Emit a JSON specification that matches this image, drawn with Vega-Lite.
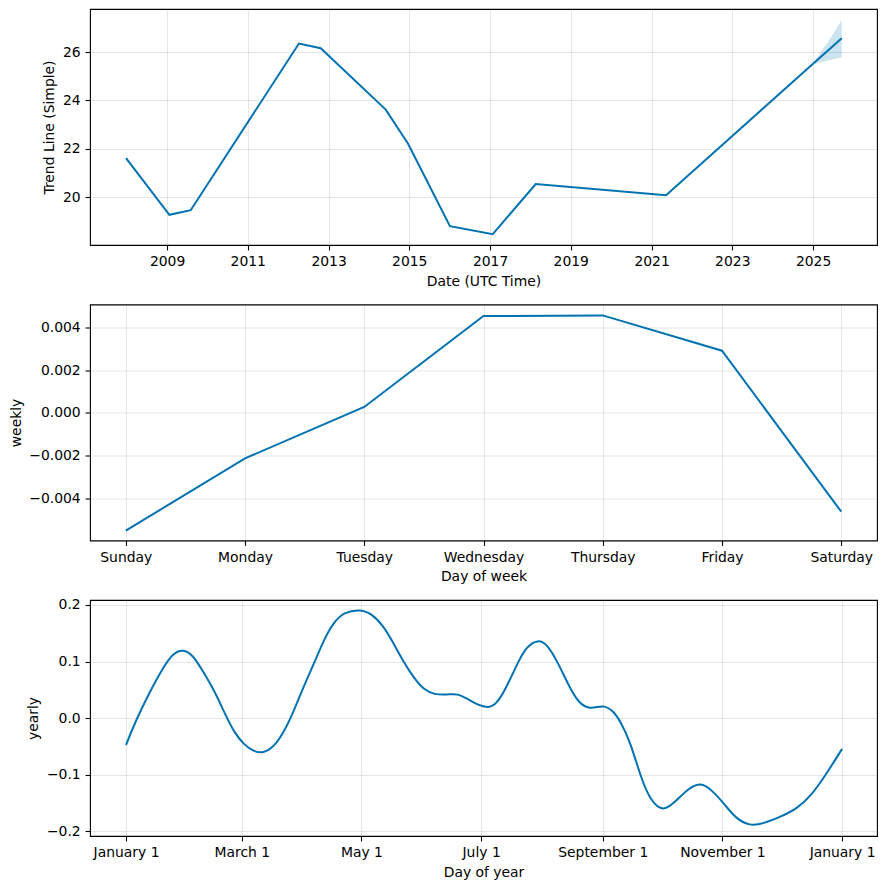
{
  "$schema": "https://vega.github.io/schema/vega-lite/v6.json",
  "padding": {"left": 8, "top": 8, "right": 9, "bottom": 5},
  "background": "white",
  "datasets": {
    "trend": [
      {"ds": "2007-12-27", "trend": 21.61},
      {"ds": "2009-01-22", "trend": 19.27},
      {"ds": "2009-08-03", "trend": 19.46},
      {"ds": "2012-04-08", "trend": 26.35},
      {"ds": "2012-10-22", "trend": 26.16},
      {"ds": "2014-06-02", "trend": 23.62},
      {"ds": "2014-12-20", "trend": 22.22},
      {"ds": "2016-01-04", "trend": 18.80},
      {"ds": "2017-01-25", "trend": 18.47},
      {"ds": "2018-02-18", "trend": 20.54},
      {"ds": "2021-05-12", "trend": 20.08},
      {"ds": "2025-01-03", "trend": 25.53},
      {"ds": "2025-09-17", "trend": 26.57}
    ],
    "band": [
      {"ds": "2025-01-03", "lower": 25.50, "upper": 25.56},
      {"ds": "2025-06-03", "lower": 25.67, "upper": 26.54},
      {"ds": "2025-09-17", "lower": 25.78, "upper": 27.32}
    ],
    "weekly": [
      {"day": "Sunday", "weekly": -0.0055},
      {"day": "Monday", "weekly": -0.00212},
      {"day": "Tuesday", "weekly": 0.00028},
      {"day": "Wednesday", "weekly": 0.00453},
      {"day": "Thursday", "weekly": 0.00456},
      {"day": "Friday", "weekly": 0.00291},
      {"day": "Saturday", "weekly": -0.00461}
    ],
    "yearly": [
      {"ds": "2017-01-01", "yearly": -0.0472},
      {"ds": "2017-01-06", "yearly": -0.004},
      {"ds": "2017-01-13", "yearly": 0.046},
      {"ds": "2017-01-20", "yearly": 0.090},
      {"ds": "2017-01-25", "yearly": 0.115},
      {"ds": "2017-01-30", "yearly": 0.122},
      {"ds": "2017-02-04", "yearly": 0.112},
      {"ds": "2017-02-09", "yearly": 0.084},
      {"ds": "2017-02-15", "yearly": 0.049},
      {"ds": "2017-02-20", "yearly": 0.0106},
      {"ds": "2017-02-25", "yearly": -0.0248},
      {"ds": "2017-03-02", "yearly": -0.0466},
      {"ds": "2017-03-07", "yearly": -0.0590},
      {"ds": "2017-03-12", "yearly": -0.062},
      {"ds": "2017-03-17", "yearly": -0.0518},
      {"ds": "2017-03-22", "yearly": -0.0277},
      {"ds": "2017-03-27", "yearly": 0.0077},
      {"ds": "2017-04-01", "yearly": 0.052},
      {"ds": "2017-04-07", "yearly": 0.098},
      {"ds": "2017-04-12", "yearly": 0.140},
      {"ds": "2017-04-17", "yearly": 0.170},
      {"ds": "2017-04-22", "yearly": 0.187},
      {"ds": "2017-04-30", "yearly": 0.1925},
      {"ds": "2017-05-06", "yearly": 0.1855},
      {"ds": "2017-05-12", "yearly": 0.164},
      {"ds": "2017-05-17", "yearly": 0.1345},
      {"ds": "2017-05-22", "yearly": 0.102},
      {"ds": "2017-05-28", "yearly": 0.0696},
      {"ds": "2017-06-02", "yearly": 0.050},
      {"ds": "2017-06-07", "yearly": 0.0415},
      {"ds": "2017-06-14", "yearly": 0.0415},
      {"ds": "2017-06-19", "yearly": 0.0435},
      {"ds": "2017-06-24", "yearly": 0.034},
      {"ds": "2017-06-29", "yearly": 0.0236},
      {"ds": "2017-07-05", "yearly": 0.0175},
      {"ds": "2017-07-09", "yearly": 0.0254},
      {"ds": "2017-07-14", "yearly": 0.0549},
      {"ds": "2017-07-19", "yearly": 0.0932},
      {"ds": "2017-07-24", "yearly": 0.1265},
      {"ds": "2017-07-30", "yearly": 0.1395},
      {"ds": "2017-08-04", "yearly": 0.1295},
      {"ds": "2017-08-09", "yearly": 0.099},
      {"ds": "2017-08-15", "yearly": 0.0549},
      {"ds": "2017-08-20", "yearly": 0.0254},
      {"ds": "2017-08-25", "yearly": 0.0170},
      {"ds": "2017-08-29", "yearly": 0.0195},
      {"ds": "2017-09-02", "yearly": 0.0222},
      {"ds": "2017-09-06", "yearly": 0.0140},
      {"ds": "2017-09-10", "yearly": -0.0050},
      {"ds": "2017-09-15", "yearly": -0.0420},
      {"ds": "2017-09-20", "yearly": -0.1000},
      {"ds": "2017-09-25", "yearly": -0.1450},
      {"ds": "2017-10-02", "yearly": -0.1670},
      {"ds": "2017-10-09", "yearly": -0.1440},
      {"ds": "2017-10-15", "yearly": -0.1233},
      {"ds": "2017-10-21", "yearly": -0.1140},
      {"ds": "2017-10-26", "yearly": -0.1251},
      {"ds": "2017-11-02", "yearly": -0.1516},
      {"ds": "2017-11-08", "yearly": -0.1782},
      {"ds": "2017-11-15", "yearly": -0.1905},
      {"ds": "2017-11-22", "yearly": -0.1862},
      {"ds": "2017-11-30", "yearly": -0.1752},
      {"ds": "2017-12-09", "yearly": -0.1605},
      {"ds": "2017-12-17", "yearly": -0.1339},
      {"ds": "2017-12-24", "yearly": -0.0985},
      {"ds": "2018-01-01", "yearly": -0.0543}
    ]
  },
  "vconcat": [
    {
      "width": 787,
      "height": 236,
      "layer": [
        {
          "data": {"name": "band"},
          "mark": {"type": "area", "color": "#0072B2", "opacity": 0.2},
          "encoding": {
            "x": {"field": "ds", "type": "temporal"},
            "y": {"field": "lower", "type": "quantitative"},
            "y2": {"field": "upper"}
          }
        },
        {
          "data": {"name": "trend"},
          "mark": {"type": "line", "color": "#0072B2", "strokeWidth": 2},
          "encoding": {
            "x": {
              "field": "ds",
              "type": "temporal",
              "scale": {"type": "utc", "domain": ["2007-02-04", "2026-08-02"]},
              "axis": {
                "title": "Date (UTC Time)",
                "format": "%Y",
                "values": [
                  {"year": 2009, "month": 1, "date": 1, "utc": true},
                  {"year": 2011, "month": 1, "date": 1, "utc": true},
                  {"year": 2013, "month": 1, "date": 1, "utc": true},
                  {"year": 2015, "month": 1, "date": 1, "utc": true},
                  {"year": 2017, "month": 1, "date": 1, "utc": true},
                  {"year": 2019, "month": 1, "date": 1, "utc": true},
                  {"year": 2021, "month": 1, "date": 1, "utc": true},
                  {"year": 2023, "month": 1, "date": 1, "utc": true},
                  {"year": 2025, "month": 1, "date": 1, "utc": true}
                ]
              }
            },
            "y": {
              "field": "trend",
              "type": "quantitative",
              "scale": {"domain": [18.02, 27.78], "nice": false, "zero": false},
              "axis": {"title": "Trend Line (Simple)", "values": [20, 22, 24, 26], "format": "d"}
            }
          }
        }
      ]
    },
    {
      "width": 787,
      "height": 236,
      "data": {"name": "weekly"},
      "mark": {"type": "line", "color": "#0072B2", "strokeWidth": 2},
      "encoding": {
        "x": {
          "field": "day",
          "type": "nominal",
          "sort": ["Sunday", "Monday", "Tuesday", "Wednesday", "Thursday", "Friday", "Saturday"],
          "scale": {"type": "point", "padding": 0.3},
          "axis": {"title": "Day of week", "labelAngle": 0}
        },
        "y": {
          "field": "weekly",
          "type": "quantitative",
          "scale": {"domain": [-0.00596, 0.00507], "nice": false, "zero": false},
          "axis": {"title": "weekly", "values": [-0.004, -0.002, 0, 0.002, 0.004], "format": ".3f"}
        }
      }
    },
    {
      "width": 787,
      "height": 236,
      "data": {"name": "yearly"},
      "mark": {"type": "line", "color": "#0072B2", "strokeWidth": 2, "interpolate": "basis"},
      "encoding": {
        "x": {
          "field": "ds",
          "type": "temporal",
          "scale": {"type": "utc", "domain": ["2016-12-13T15:00:00Z", "2018-01-18T19:00:00Z"]},
          "axis": {
            "title": "Day of year",
            "format": "%B %-d",
            "values": [
              {"year": 2017, "month": 1, "date": 1, "utc": true},
              {"year": 2017, "month": 3, "date": 1, "utc": true},
              {"year": 2017, "month": 5, "date": 1, "utc": true},
              {"year": 2017, "month": 7, "date": 1, "utc": true},
              {"year": 2017, "month": 9, "date": 1, "utc": true},
              {"year": 2017, "month": 11, "date": 1, "utc": true},
              {"year": 2018, "month": 1, "date": 1, "utc": true}
            ]
          }
        },
        "y": {
          "field": "yearly",
          "type": "quantitative",
          "scale": {"domain": [-0.2083, 0.2088], "nice": false, "zero": false},
          "axis": {"title": "yearly", "values": [-0.2, -0.1, 0, 0.1, 0.2], "format": ".1f"}
        }
      }
    }
  ],
  "spacing": 59.5,
  "bounds": "flush",
  "config": {
    "font": "DejaVu Sans",
    "view": {"stroke": "black", "strokeWidth": 1.1},
    "axis": {
      "domain": false,
      "grid": true,
      "gridColor": "gray",
      "gridOpacity": 0.2,
      "gridWidth": 1,
      "ticks": true,
      "tickColor": "black",
      "tickSize": 4.9,
      "tickWidth": 1.1,
      "labelFont": "DejaVu Sans",
      "labelFontSize": 13.9,
      "labelColor": "black",
      "labelPadding": 4.9,
      "titleFont": "DejaVu Sans",
      "titleFontSize": 13.9,
      "titleFontWeight": "normal",
      "titleColor": "black",
      "titlePadding": 5.6,
      "labelFlush": false,
      "labelOverlap": false
    }
  }
}
